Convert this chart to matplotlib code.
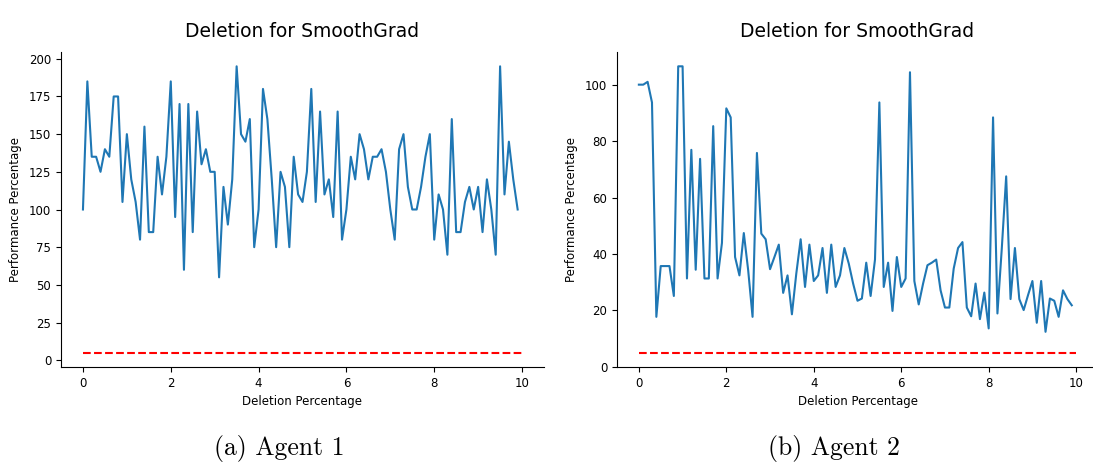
import numpy as np
import matplotlib
matplotlib.use("Agg")
import matplotlib.pyplot as plt

deletion_pct = [round(0.1 * i, 1) for i in range(100)]

agent1_perf = [
    100, 185, 135, 135, 125, 140, 135, 175, 175, 105,
    150, 120, 105, 80, 155, 85, 85, 135, 110, 135,
    185, 95, 170, 60, 170, 85, 165, 130, 140, 125,
    125, 55, 115, 90, 120, 195, 150, 145, 160, 75,
    100, 180, 160, 120, 75, 125, 115, 75, 135, 110,
    105, 125, 180, 105, 165, 110, 120, 95, 165, 80,
    100, 135, 120, 150, 140, 120, 135, 135, 140, 125,
    100, 80, 140, 150, 115, 100, 100, 115, 135, 150,
    80, 110, 100, 70, 160, 85, 85, 105, 115, 100,
    115, 85, 120, 100, 70, 195, 110, 145, 120, 100,
]

agent2_perf = [
    100, 100, 101, 93.7, 17.7, 35.7, 35.7, 35.7, 25.1, 106.5,
    106.5, 31.3, 76.9, 34.4, 73.7, 31.3, 31.3, 85.3, 31.3, 43.9,
    91.6, 88.4, 38.9, 32.4, 47.4, 34.2, 17.7, 75.8, 47.2, 45.2,
    34.6, 38.9, 43.3, 26.2, 32.4, 18.6, 33.0, 45.2, 28.3, 43.3,
    30.4, 32.4, 42.1, 26.2, 43.3, 28.3, 32.4, 42.1, 36.6, 29.5,
    23.4, 24.2, 36.9, 25.1, 38.0, 93.7, 28.3, 36.9, 19.8, 38.9,
    28.3, 31.3, 104.4, 30.4, 22.1, 29.5, 36.0, 36.9, 38.0, 27.1,
    21.0, 21.0, 34.8, 42.1, 44.2, 21.0, 17.9, 29.5, 16.9, 26.3,
    13.6, 88.4, 18.9, 42.0, 67.5, 24.0, 42.1, 24.0, 20.1, 25.4,
    30.4, 15.6, 30.4, 12.4, 24.2, 23.4, 17.7, 27.1, 24.0, 21.8,
]

threshold = 5
panel_titles = ["Deletion for SmoothGrad", "Deletion for SmoothGrad"]
captions = ["(a) Agent 1", "(b) Agent 2"]
xlabel = "Deletion Percentage"
ylabel = "Performance Percentage"

fig = plt.figure(figsize=(10.93, 4.65), dpi=100)
ax1 = fig.add_axes([61 / 1093, 1 - 367 / 465, (544 - 61) / 1093, (367 - 52) / 465])
ax2 = fig.add_axes([617 / 1093, 1 - 367 / 465, (1098 - 617) / 1093, (367 - 52) / 465])

for ax, series, title in zip([ax1, ax2], [agent1_perf, agent2_perf], panel_titles):
    ax.plot(deletion_pct, series, color="#1f77b4", linewidth=1.5)
    ax.hlines(threshold, 0, 10, colors="red", linestyles="--", linewidth=1.5)
    ax.set_title(title, fontsize=13.5, pad=11)
    ax.set_xlabel(xlabel, fontsize=8.5)
    ax.set_ylabel(ylabel, fontsize=8.5, labelpad=5)
    ax.tick_params(labelsize=8.5)
    ax.spines["top"].set_visible(False)
    ax.spines["right"].set_visible(False)

ax1.set_yticks([0, 25, 50, 75, 100, 125, 150, 175, 200])
ax2.set_yticks([0, 20, 40, 60, 80, 100])

fig.text(279 / 1093, 1 - 448 / 465, captions[0], fontsize=18.5, family="cmr10",
         ha="center", va="center")
fig.text(834 / 1093, 1 - 448 / 465, captions[1], fontsize=18.5, family="cmr10",
         ha="center", va="center")

fig.savefig("out.png", dpi=100)
